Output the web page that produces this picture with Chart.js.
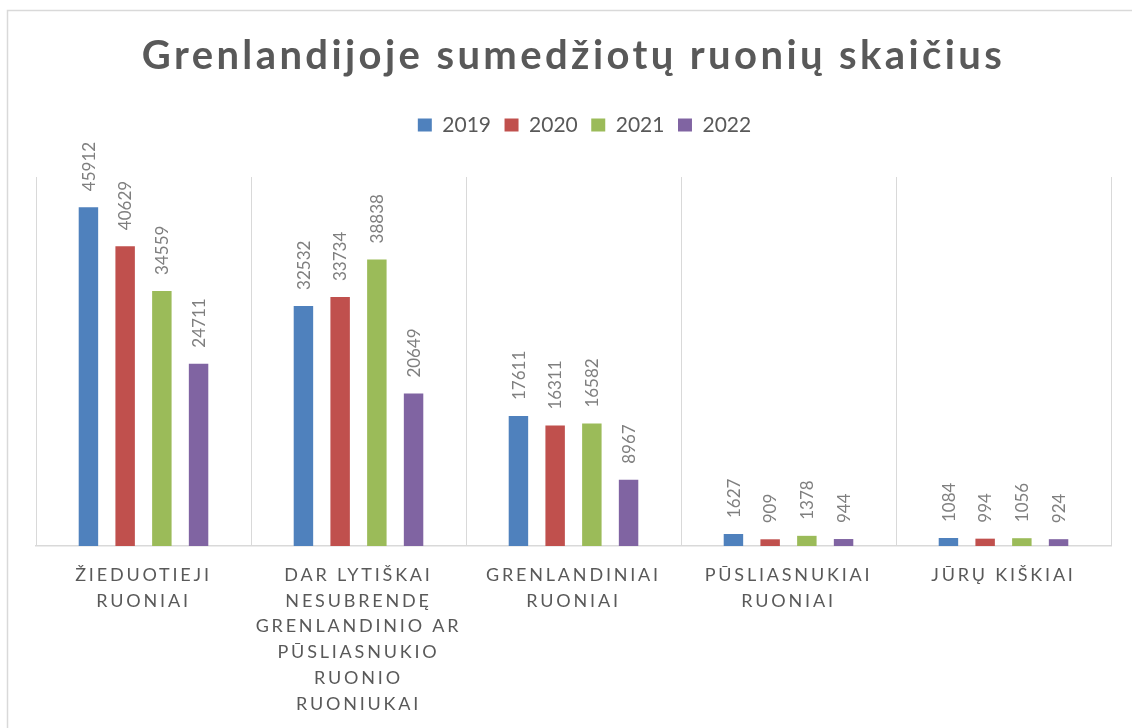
<!DOCTYPE html>
<html>
<head>
<meta charset="utf-8">
<script src="https://cdn.jsdelivr.net/npm/chart.js@4/dist/chart.umd.min.js"></script>
<style>
html,body{margin:0;padding:0;background:#fff;}
#wrap{width:1132px;height:728px;position:relative;}
canvas{display:block;}
</style>
</head>
<body>
<div id="wrap"><canvas id="c" width="1132" height="728"></canvas></div>
<script>
const chartTitle = "Grenlandijoje sumedžiotų ruonių skaičius";
const categories = [
  ["ŽIEDUOTIEJI", "RUONIAI"],
  ["DAR LYTIŠKAI", "NESUBRENDĘ", "GRENLANDINIO AR", "PŪSLIASNUKIO", "RUONIO", "RUONIUKAI"],
  ["GRENLANDINIAI", "RUONIAI"],
  ["PŪSLIASNUKIAI", "RUONIAI"],
  ["JŪRŲ KIŠKIAI"]
];
const years = ["2019", "2020", "2021", "2022"];
const values2019 = [45912, 32532, 17611, 1627, 1084];
const values2020 = [40629, 33734, 16311, 909, 994];
const values2021 = [34559, 38838, 16582, 1378, 1056];
const values2022 = [24711, 20649, 8967, 944, 924];
const yMin = 0;
const yMax = 50000;

const seriesValues = [values2019, values2020, values2021, values2022];
const seriesColors = ["#4f81bd", "#c0504d", "#9bbb59", "#8064a2"];

function wrapSpacing(obj, method, sp) {
  if (!obj || obj["__sp_" + method]) return;
  const orig = obj[method];
  obj[method] = function (...args) {
    const c = this.ctx;
    c.save();
    c.letterSpacing = sp;
    const r = orig.apply(this, args);
    c.restore();
    return r;
  };
  obj["__sp_" + method] = true;
}

function wrapShift(obj, dx) {
  if (!obj || obj.__shifted) return;
  const orig = obj.draw;
  obj.draw = function (...args) {
    const c = this.ctx;
    c.save();
    c.translate(dx, 0);
    const r = orig.apply(this, args);
    c.restore();
    return r;
  };
  obj.__shifted = true;
}

const layoutTweaks = {
  id: "layoutTweaks",
  beforeLayout(chart) {
    const lg = chart.legend;
    if (lg && !lg.__fitPatched) {
      const f = lg.fit;
      lg.fit = function () { f.call(this); this.height += 31.5; };
      lg.__fitPatched = true;
    }
    wrapShift(lg, 11);
    wrapSpacing(chart.titleBlock, "draw", "3.4px");
    wrapSpacing(chart.scales.x, "drawLabels", "2.8px");
  }
};

const frame = {
  id: "frame",
  beforeDraw(chart) {
    const ctx = chart.ctx;
    ctx.save();
    ctx.fillStyle = "#ffffff";
    ctx.fillRect(0, 0, chart.width, chart.height);
    ctx.strokeStyle = "#d9d9d9";
    ctx.lineWidth = 1.5;
    ctx.strokeRect(7.5, 10.5, chart.width + 20, chart.height + 20);
    ctx.restore();
  }
};

const valueLabels = {
  id: "valueLabels",
  afterDatasetsDraw(chart) {
    const ctx = chart.ctx;
    ctx.save();
    ctx.font = "17px Lato";
    ctx.fillStyle = "#7f7f7f";
    ctx.textAlign = "left";
    ctx.textBaseline = "alphabetic";
    chart.data.datasets.forEach((ds, i) => {
      const meta = chart.getDatasetMeta(i);
      meta.data.forEach((bar, j) => {
        ctx.save();
        ctx.translate(bar.x, bar.y - 16);
        ctx.rotate(-Math.PI / 2);
        ctx.fillText(String(ds.data[j]), 0, 6.1);
        ctx.restore();
      });
    });
    ctx.restore();
  }
};

function make() {
  new Chart(document.getElementById("c"), {
    type: "bar",
    data: {
      labels: categories,
      datasets: years.map((y, i) => ({
        label: y,
        data: seriesValues[i],
        backgroundColor: seriesColors[i],
        borderWidth: 0,
        categoryPercentage: 0.683,
        barPercentage: 0.53
      }))
    },
    options: {
      responsive: false,
      animation: false,
      devicePixelRatio: 1,
      layout: { padding: { left: 36, right: 21, top: 10, bottom: 10 } },
      scales: {
        x: {
          grid: { offset: true, color: "#d9d9d9", lineWidth: 1, drawTicks: false },
          border: { display: true, color: "#d9d9d9", width: 1.5 },
          ticks: {
            color: "#595959",
            font: { family: "Lato", size: 18, lineHeight: "25.8px" },
            padding: 16,
            maxRotation: 0,
            minRotation: 0,
            autoSkip: false
          },
          afterFit(scale) { scale.height = 172; }
        },
        y: { display: false, min: yMin, max: yMax }
      },
      plugins: {
        title: {
          display: true,
          text: chartTitle,
          color: "#595959",
          font: { family: "Lato", size: 40, weight: "bold", lineHeight: 1.2 },
          padding: { top: 22, bottom: 21 }
        },
        legend: {
          labels: {
            boxWidth: 14,
            boxHeight: 13,
            color: "#595959",
            font: { family: "Lato", size: 21 },
            padding: 13.5
          }
        },
        tooltip: { enabled: false }
      }
    },
    plugins: [frame, layoutTweaks, valueLabels]
  });
}

Promise.all([
  document.fonts.load("bold 40px Lato"),
  document.fonts.load("17px Lato"),
  document.fonts.load("18px Lato"),
  document.fonts.load("21px Lato")
]).then(make, make);
</script>
</body>
</html>
